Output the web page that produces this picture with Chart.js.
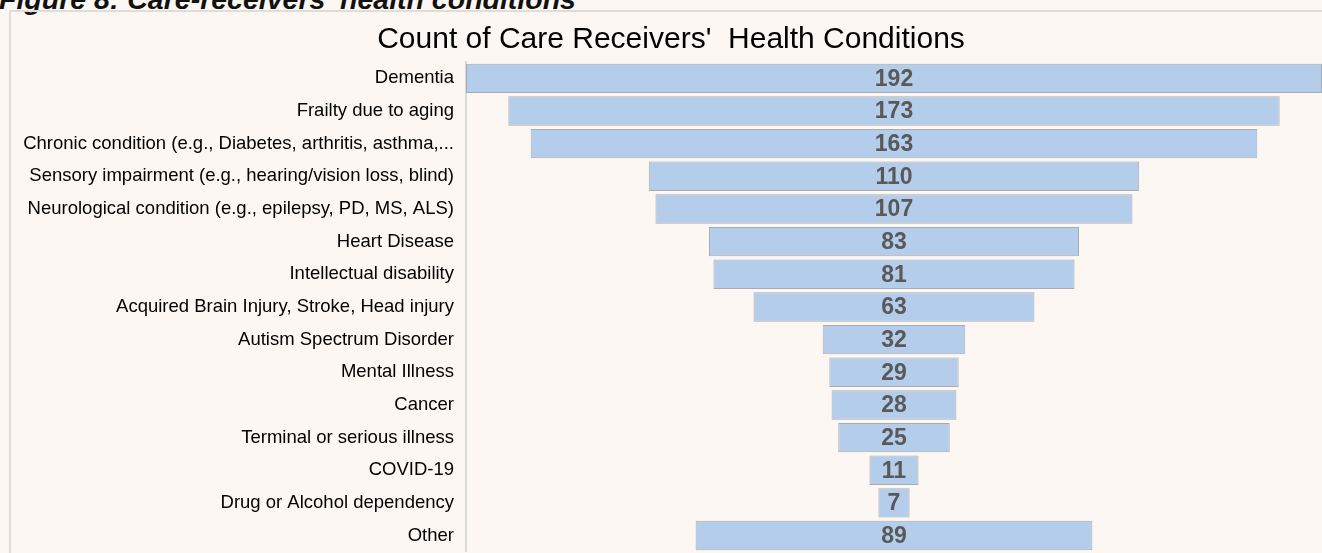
<!DOCTYPE html>
<html>
<head>
<meta charset="utf-8">
<script src="https://cdn.jsdelivr.net/npm/chart.js@4/dist/chart.umd.min.js"></script>
<style>
  html, body { margin: 0; padding: 0; background: #fcf7f3; overflow: hidden; }
  #wrap { position: relative; width: 1322px; height: 553px; overflow: hidden; }
  #caption {
    position: absolute; left: -1px; top: -15px;
    font: italic bold 28.5px/28px "Liberation Sans", Arial, sans-serif;
    color: #111; white-space: nowrap;
  }
  #panel {
    position: absolute; left: 9px; top: 10px; width: 1330px; height: 560px;
    border: 2px solid #e0dcd8; box-sizing: border-box;
  }
  canvas { position: absolute; left: 0; top: 0; }
</style>
</head>
<body>
<div id="wrap">
  <div id="caption">Figure 8: Care-receivers' health conditions</div>
  <div id="panel"></div>
  <canvas id="chart" width="1322" height="575"></canvas>
</div>
<script>
const conditions = [
    'Dementia',
    'Frailty due to aging',
    'Chronic condition (e.g., Diabetes, arthritis, asthma,...',
    'Sensory impairment (e.g., hearing/vision loss, blind)',
    'Neurological condition (e.g., epilepsy, PD, MS, ALS)',
    'Heart Disease',
    'Intellectual disability',
    'Acquired Brain Injury, Stroke, Head injury',
    'Autism Spectrum Disorder',
    'Mental Illness',
    'Cancer',
    'Terminal or serious illness',
    'COVID-19',
    'Drug or Alcohol dependency',
    'Other'
];
const counts = [192, 173, 163, 110, 107, 83, 81, 63, 32, 29, 28, 25, 11, 7, 89];

// funnel: each bar is centred on zero
const funnelBars = counts.map(v => [-v / 2, v / 2]);
const maxCount = Math.max(...counts);

const valueLabels = {
    id: 'valueLabels',
    afterDatasetsDraw(chart) {
        const ctx = chart.ctx;
        const meta = chart.getDatasetMeta(0);
        ctx.save();
        ctx.font = 'bold 23px "Liberation Sans", Arial, sans-serif';
        ctx.fillStyle = '#595959';
        ctx.textAlign = 'center';
        ctx.textBaseline = 'middle';
        meta.data.forEach((bar, i) => {
            const x = chart.scales.x.getPixelForValue(0);
            ctx.fillText(counts[i], x, bar.y + 1);
        });
        ctx.restore();
    }
};

new Chart(document.getElementById('chart'), {
    type: 'bar',
    data: {
        labels: conditions,
        datasets: [{
            data: funnelBars,
            backgroundColor: '#b4cdea',
            borderColor: '#a8acb2',
            borderWidth: 1,
            borderSkipped: false,
            barPercentage: 0.9,
            categoryPercentage: 1
        }]
    },
    options: {
        indexAxis: 'y',
        responsive: false,
        animation: false,
        events: [],
        layout: { padding: { left: 20, right: 0, top: 0, bottom: 0 } },
        plugins: {
            legend: { display: false },
            tooltip: { enabled: false },
            title: {
                display: true,
                text: "Count of Care Receivers'  Health Conditions",
                color: '#000',
                font: { family: '"Liberation Sans", Arial, sans-serif', size: 30, weight: 'normal' },
                padding: { top: 22, bottom: 4 }
            }
        },
        scales: {
            x: {
                display: false,
                min: -maxCount / 2,
                max: maxCount / 2
            },
            y: {
                afterFit: s => { s.width = 446; },
                grid: { display: false, drawTicks: false },
                border: { display: true, color: '#d9d9d9', width: 2 },
                ticks: {
                    color: '#000',
                    padding: 12,
                    font: { family: '"Liberation Sans", Arial, sans-serif', size: 18.5 }
                }
            }
        }
    },
    plugins: [valueLabels]
});
</script>
</body>
</html>
